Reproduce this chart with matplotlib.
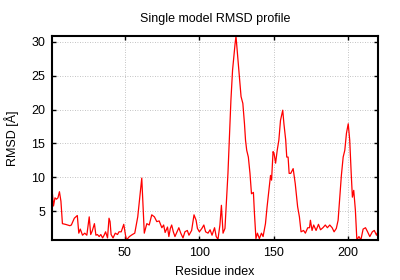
import matplotlib
matplotlib.use("Agg")
import numpy as np
import matplotlib.pyplot as plt

plt.rcParams['font.family'] = ['Liberation Sans', 'DejaVu Sans']

# Values (residue, RMSD in Å), same count per line
residue = [1, 2, 3, 4, 5, 6, 7, 8, 10, 13, 14, 16, 18, 19, 20, 21.5, 23, 24.4,
           26, 27, 28, 29.5, 30.5, 31.5, 32.7, 33.8, 35, 36, 37, 38.3, 39.3,
           40, 40.7, 42, 43.5, 45, 46, 47.5, 49.2, 50.3, 51, 53, 55, 56.6,
           58.6, 61.3, 63, 64.7, 66.3, 68, 69.8, 71.4, 73, 74.8, 76, 77,
           78.6, 79.5, 80.5, 81.4, 82.5, 83.6, 85, 86.2, 87.5, 89, 90.3, 91.9, 93,
           94.8, 96.4, 97.8, 98.7, 100, 101.7, 103, 104.2, 105.8, 107.2, 108.5, 110.2,
           111.3, 112.5, 113.8, 114.8, 115.9, 117.2, 118.4, 119.2, 121.2, 122.3, 124, 124.6,
           125.8, 126.9, 128, 129.2, 130.3, 131, 131.8, 132.9, 134, 135, 136.3, 137,
           138, 139, 140.3, 141.7, 142.8, 144.4, 145.5, 146.7, 147.8, 148.5, 149.5, 150.2,
           151.2, 152.3, 153.4, 154.5, 156, 156.8, 158, 158.7, 159.6, 160.3, 161.4, 163,
           164.4, 166, 167.2, 168.3, 170, 171.2, 172.8, 174, 174.6, 175.7, 176.8, 178.4,
           180, 181.4, 183, 184.6, 186, 187.6, 189.2, 190.5, 192, 193.2, 194.3, 195.4,
           196.6, 197.7, 198.8, 200, 201, 202, 202.8, 203.7, 204.8, 205.8, 207.2, 208.5,
           210, 211.6, 213, 214.5, 216.2, 217.5, 219, 220]
rmsd = [8.3, 5.8, 7.0, 6.8, 7.0, 7.9, 6.5, 3.2, 3.1, 2.9, 3.0, 4.0, 4.4, 1.8, 2.4, 1.5, 1.8, 1.5,
        4.2, 1.6, 2.1, 3.2, 1.5, 1.6, 1.3, 1.6, 1.1, 1.5, 2.0, 1.1, 4.0,
        3.5, 1.6, 1.1, 1.8, 1.6, 2.0, 2.0, 3.1, 1.6, 0.8, 1.3, 1.6, 1.8,
        4.2, 9.9, 1.8, 3.2, 3.0, 4.5, 4.2, 3.5, 3.6, 2.6, 3.0, 1.9,
        2.7, 1.3, 2.5, 3.0, 2.0, 1.3, 2.0, 2.6, 1.8, 1.1, 2.0, 2.2, 1.5,
        2.2, 4.5, 3.7, 2.5, 2.0, 2.5, 3.0, 2.0, 1.8, 2.3, 1.5, 2.6,
        1.3, 0.9, 3.0, 5.9, 1.8, 2.5, 7.4, 10.6, 21.4, 25.8, 29.7, 30.8,
        27.7, 24.8, 21.9, 20.9, 17.9, 15.5, 14.0, 13.0, 10.6, 7.6, 7.8, 4.7,
        1.0, 1.8, 1.0, 1.8, 1.3, 3.2, 5.7, 8.1, 10.3, 9.6, 13.8, 13.5,
        12.1, 14.0, 15.5, 18.4, 19.9, 17.9, 15.5, 13.0, 13.0, 10.6, 10.6, 11.3,
        9.1, 5.7, 4.2, 2.0, 2.2, 1.8, 2.6, 2.6, 3.7, 2.2, 3.0, 2.2,
        3.1, 2.3, 2.6, 3.0, 2.6, 3.0, 2.6, 2.0, 2.5, 3.7, 7.1, 10.3,
        13.0, 14.0, 16.5, 17.9, 15.5, 10.6, 7.1, 8.1, 5.2, 0.8, 1.3, 0.8,
        2.4, 2.6, 2.0, 1.3, 2.0, 2.2, 1.5, 2.1]

x_ticks = [50, 100, 150, 200]
y_ticks = [5, 10, 15, 20, 25, 30]

fig = plt.figure(figsize=(4, 2.8), dpi=100)
ax = fig.add_axes([0.13, 0.143, 0.815, 0.728])

ax.plot(residue, rmsd, color='red', linewidth=0.9)

ax.set_xlim(min(residue), max(residue))
ax.set_ylim(min(rmsd), max(rmsd))
ax.set_xticks(x_ticks)
ax.set_yticks(y_ticks)
ax.tick_params(direction='in', length=3, width=1, top=True, right=True,
               labelsize=9, pad=5)
ax.grid(True, linestyle=(0, (1, 2)), color='#b0b0b0', linewidth=0.6)
for s in ax.spines.values():
    s.set_linewidth(1.5)

ax.set_title('Single model RMSD profile', fontsize=9, pad=10)
ax.set_xlabel('Residue index', fontsize=9, labelpad=5)
ax.set_ylabel('RMSD [Å]', fontsize=9, labelpad=9)

fig.savefig('out.png', dpi=100)
